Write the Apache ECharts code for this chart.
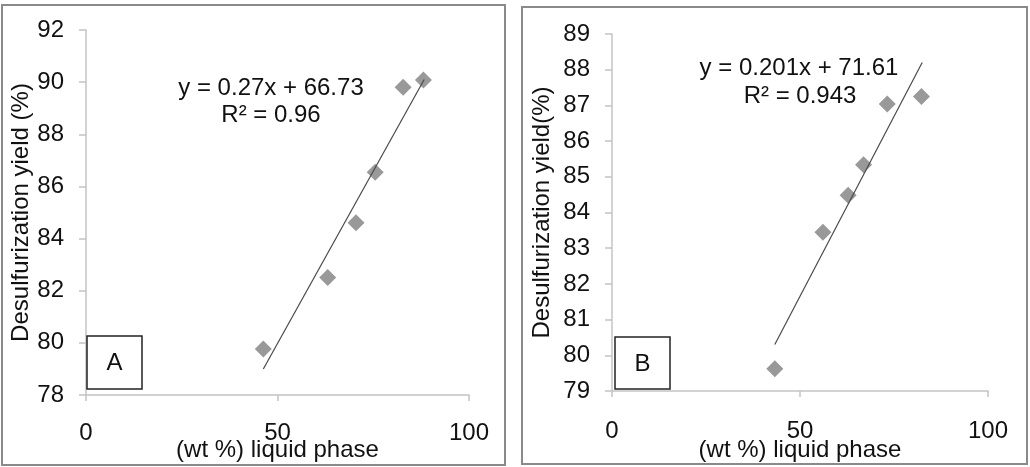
<!DOCTYPE html>
<html>
<head>
<meta charset="utf-8">
<script src="https://cdn.jsdelivr.net/npm/echarts@6/dist/echarts.min.js"></script>
<style>
  html, body { margin: 0; padding: 0; background: #fff; }
  #chart { width: 1030px; height: 467px; }
</style>
</head>
<body>
<div id="chart"></div>
<script>
// panel A
var xA = [46.3, 63.1, 70.5, 75.5, 82.8, 88.1];
var yA = [79.76, 82.51, 84.61, 86.54, 89.8, 90.08];
var trendAx = [46.3, 88.3];
var trendAy = [79.0, 90.1];
// panel B
var xB = [43.3, 56.1, 62.8, 66.9, 73.2, 82.3];
var yB = [79.62, 83.45, 84.48, 85.34, 87.04, 87.25];
var trendBx = [43.3, 82.5];
var trendBy = [80.3, 88.2];

var xTicks = [0, 50, 100];
var eqA = ['y = 0.27x + 66.73', 'R\u00b2 = 0.96'];
var eqB = ['y = 0.201x + 71.61', 'R\u00b2 = 0.943'];

var FONT = '"Liberation Sans", Arial, sans-serif';
var TXT = '#111';

function pairs(xs, ys) {
    var out = [];
    for (var i = 0; i < xs.length; i++) out.push([xs[i], ys[i]]);
    return out;
}

function xAxisCfg(idx, margin, gap) {
    return {
        gridIndex: idx, type: 'value', min: xTicks[0], max: xTicks[2], interval: 50,
        name: '(wt %) liquid phase', nameLocation: 'middle', nameGap: gap, nameMoveOverlap: false,
        nameTextStyle: { fontFamily: FONT, fontSize: 24, color: TXT },
        axisLine: { show: true, lineStyle: { color: '#c4c4c4', width: 1.5 } },
        axisTick: { show: true, inside: false, length: 6, lineStyle: { color: '#c4c4c4', width: 1.5 } },
        axisLabel: { margin: margin, fontFamily: FONT, fontSize: 24, color: TXT },
        splitLine: { show: false }
    };
}

function yAxisCfg(idx, min, max, step, name, gap) {
    return {
        gridIndex: idx, type: 'value', min: min, max: max, interval: step,
        name: name, nameLocation: 'middle', nameGap: gap, nameRotate: 90, nameMoveOverlap: false,
        nameTextStyle: { fontFamily: FONT, fontSize: 24, color: TXT },
        axisLine: { show: true, lineStyle: { color: '#c4c4c4', width: 1.5 } },
        axisTick: { show: true, inside: false, length: 7, lineStyle: { color: '#c4c4c4', width: 1.5 } },
        axisLabel: { margin: 22, fontFamily: FONT, fontSize: 24, color: TXT },
        splitLine: { show: false }
    };
}

function txt(x, y, s) {
    return {
        type: 'text', x: x, y: y, z: 10,
        style: { text: s, font: '24px ' + FONT, fill: TXT, textAlign: 'center', textVerticalAlign: 'middle' }
    };
}

var chart = echarts.init(document.getElementById('chart'), null, { renderer: 'canvas' });

var option = {
    animation: false,
    backgroundColor: '#fff',
    grid: [
        { left: 86, top: 30, width: 383, height: 365, outerBoundsMode: 'none', containLabel: false },
        { left: 612, top: 34, width: 376, height: 357, outerBoundsMode: 'none', containLabel: false }
    ],
    xAxis: [xAxisCfg(0, 26, 43), xAxisCfg(1, 28, 47)],
    yAxis: [
        yAxisCfg(0, 78, 92, 2, 'Desulfurization yield (%)', 53),
        yAxisCfg(1, 79, 89, 1, 'Desulfurization yield(%)', 58)
    ],
    series: [
        {
            type: 'scatter', xAxisIndex: 0, yAxisIndex: 0, data: pairs(xA, yA),
            symbol: 'diamond', symbolSize: 17, itemStyle: { color: '#808080' }
        },
        {
            type: 'line', xAxisIndex: 0, yAxisIndex: 0, data: pairs(trendAx, trendAy),
            symbol: 'none', lineStyle: { color: '#4a4a4a', width: 1.2 }, z: 3
        },
        {
            type: 'scatter', xAxisIndex: 1, yAxisIndex: 1, data: pairs(xB, yB),
            symbol: 'diamond', symbolSize: 17, itemStyle: { color: '#808080' }
        },
        {
            type: 'line', xAxisIndex: 1, yAxisIndex: 1, data: pairs(trendBx, trendBy),
            symbol: 'none', lineStyle: { color: '#4a4a4a', width: 1.2 }, z: 3
        }
    ],
    graphic: [
        // panel frames
        { type: 'rect', shape: { x: 2, y: 5, width: 503, height: 460 }, style: { fill: null, stroke: '#8a8a8a', lineWidth: 2 }, z: 0 },
        { type: 'rect', shape: { x: 522, y: 7, width: 505, height: 457 }, style: { fill: null, stroke: '#8a8a8a', lineWidth: 2 }, z: 0 },
        // A / B boxes
        { type: 'rect', shape: { x: 87, y: 336, width: 55, height: 53 }, style: { fill: '#fff', stroke: '#222', lineWidth: 1.5 }, z: 10 },
        txt(114.5, 363, 'A'),
        { type: 'rect', shape: { x: 615, y: 337, width: 55, height: 52 }, style: { fill: '#fff', stroke: '#222', lineWidth: 1.5 }, z: 10 },
        txt(642.5, 364, 'B'),
        // regression labels
        txt(271, 88, eqA[0]),
        txt(271, 115, eqA[1]),
        txt(799, 68, eqB[0]),
        txt(800, 96, eqB[1])
    ]
};

chart.setOption(option);
</script>
</body>
</html>
